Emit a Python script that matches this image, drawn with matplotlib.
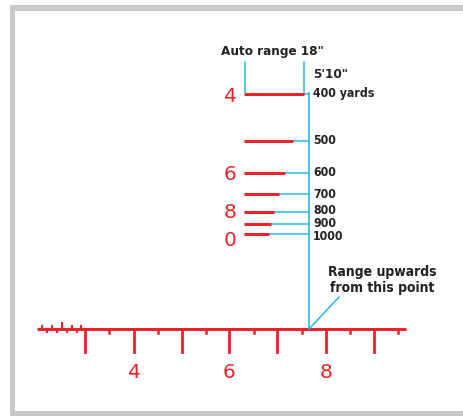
import matplotlib.pyplot as plt
from matplotlib.patches import Rectangle

# range marks on the reticle (yards), their height and where the red bar stops
ranges = ["400 yards", "500", "600", "700", "800", "900", "1000"]
mark_y = [94, 141, 173, 194, 212, 224, 234]
label_shift = [-1, 0, 0, 0, -1.5, -0.5, 2.5]
bar_end = [304, 293, 285, 279, 274, 271, 269]
bar_start = 244

# red numbers at the left of the marks
side_labels = ["4", "6", "8", "0"]
side_y = [96, 174, 212, 241]

# bottom scale
major_x = [85, 134, 182, 229, 277, 326, 374]
minor_x = [109, 158, 206, 254, 302, 350, 398]
scale_labels = {134: "4", 229: "6", 326: "8"}
fine_x = [42, 47, 52, 57, 62, 67, 72, 77, 81]

red = "#e8232a"
blue = "#2bb5e6"
txt = "#222222"

fig = plt.figure(figsize=(4.63, 4.16), dpi=100)
ax = fig.add_axes([0, 0, 1, 1])
ax.set_xlim(0, 463)
ax.set_ylim(416, 0)
ax.axis("off")

# grey frame
ax.add_patch(Rectangle((10, 5), 453, 6, color="#c8c8c8", lw=0))
ax.add_patch(Rectangle((10, 5), 5, 411, color="#c8c8c8", lw=0))
ax.add_patch(Rectangle((10, 411), 453, 5, color="#c8c8c8", lw=0))

bold = dict(fontfamily="DejaVu Sans", fontstretch="condensed", fontweight="bold",
            color=txt)

# vertical range line and bars
ax.plot([309, 309], [93, 329], color=blue, lw=1.2)
for lab, y, dy, x1 in zip(ranges, mark_y, label_shift, bar_end):
    ax.plot([x1, 309], [y, y], color=blue, lw=1.1)
    ax.plot([bar_start, x1], [y, y], color=red, lw=2.2, solid_capstyle="butt")
    ax.text(313, y + dy, lab, ha="left", va="center", fontsize=8.8, **bold)

# auto range bracket
ax.plot([245, 245], [62, 92], color=blue, lw=1.1)
ax.plot([304, 304], [62, 92], color=blue, lw=1.1)
ax.text(272, 52, "Auto range 18\"", ha="center", va="center", fontsize=9.6, **bold)
ax.text(313, 75, "5'10\"", ha="left", va="center", fontsize=9.6, **bold)

for lab, y in zip(side_labels, side_y):
    ax.text(230, y, lab, ha="center", va="center", fontsize=14.5, color=red)

# bottom scale
ax.plot([37, 406], [329, 329], color=red, lw=2.2, solid_capstyle="butt")
for x in major_x:
    ax.plot([x, x], [329, 352], color=red, lw=2)
for x in minor_x:
    ax.plot([x, x], [329, 333], color=red, lw=1.8)
for i, x in enumerate(fine_x):
    if i % 2 == 0:
        top = 323 if x == 62 else 326
        ax.plot([x, x], [top, 329], color=red, lw=1.5)
    else:
        ax.plot([x, x], [329, 332], color=red, lw=1.5)
for x, lab in scale_labels.items():
    ax.text(x, 372, lab, ha="center", va="center", fontsize=14.5, color=red)

# pointer to origin
ax.plot([309, 339], [329, 297], color=blue, lw=1.1)
ax.text(382, 280, "Range upwards\nfrom this point", ha="center", va="center",
        linespacing=1.1, fontsize=10, **bold)

fig.savefig("out.png", dpi=100)
